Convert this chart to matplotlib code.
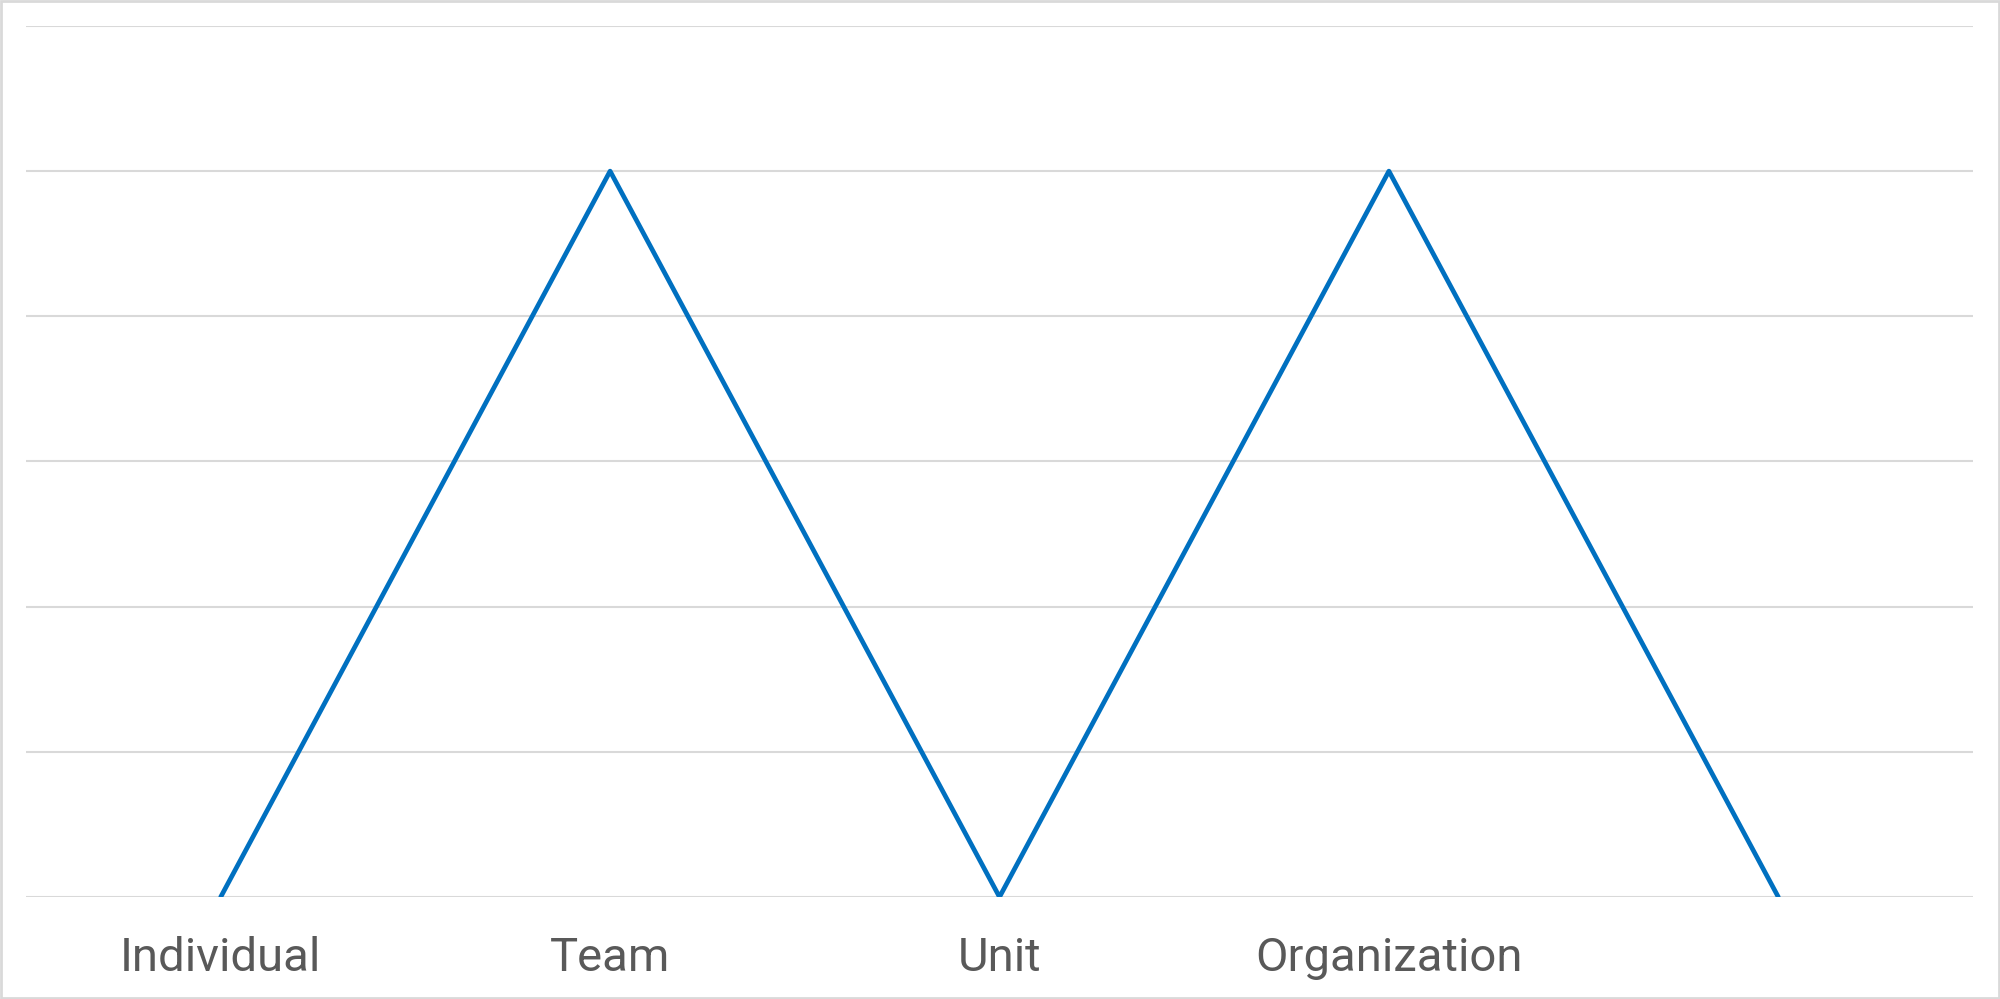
import matplotlib
matplotlib.use("Agg")
import matplotlib.pyplot as plt
from matplotlib.patches import Rectangle

categories = ["Individual", "Team", "Unit", "Organization", ""]
values = [0, 5, 0, 5, 0]
y_ticks = [0, 1, 2, 3, 4, 5, 6]

fig = plt.figure(figsize=(20, 9.99), dpi=100)
ax = fig.add_axes([0.013, 0.1021, 0.9735, 0.8719])

x = list(range(len(categories)))
ax.plot(x, values, color="#0070C0", linewidth=3.4, solid_joinstyle="round",
        solid_capstyle="round", zorder=3)

ax.set_xlim(-0.5, len(categories) - 0.5)
ax.set_ylim(0, 6)
ax.set_yticks(y_ticks)
ax.yaxis.grid(True, color="#D9D9D9", linewidth=1.5)
ax.set_axisbelow(True)
ax.tick_params(axis="y", left=False, labelleft=False)
ax.set_xticks(x)
ax.set_xticklabels(categories, family="Roboto", fontsize=34, color="#595959")
ax.tick_params(axis="x", length=0, pad=28)
for s in ax.spines.values():
    s.set_visible(False)

fig.patches.append(Rectangle((0.0005, 0.001), 0.999, 0.998, transform=fig.transFigure,
                             fill=False, edgecolor="#D9D9D9", linewidth=2))

fig.savefig("out.png", dpi=100, facecolor="white")
